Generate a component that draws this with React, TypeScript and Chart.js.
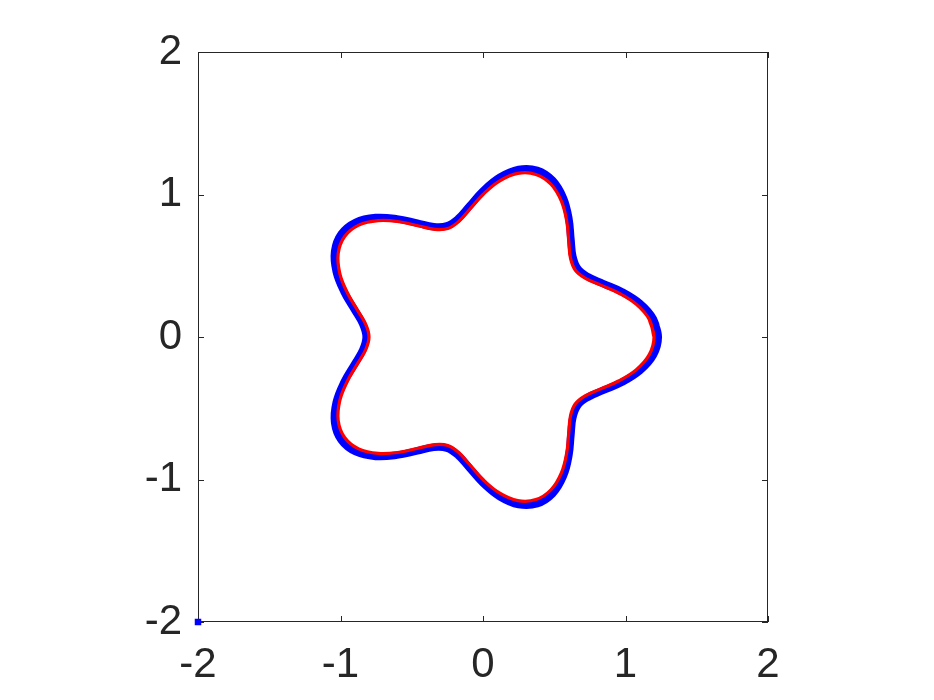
import React, { useEffect, useRef } from "react";
import { Chart, registerables } from "chart.js";

Chart.register(...registerables);

// Red curve (fitted boundary)
const redX = [
  1.200, 1.167, 1.076, 0.951, 0.822, 0.716, 0.647, 0.614, 0.602, 0.588, 0.550, 0.477, 0.371, 0.244, 0.115, 0.000,
  -0.094, -0.172, -0.247, -0.336, -0.450, -0.588, -0.736, -0.872, -0.971, -1.016, -1.005, -0.951, -0.880, -0.822, -0.800,
  -0.822, -0.880, -0.951, -1.005, -1.016, -0.971, -0.872, -0.736, -0.588, -0.450, -0.336, -0.247, -0.172, -0.094, 0.000,
  0.115, 0.244, 0.371, 0.477, 0.550, 0.588, 0.602, 0.614, 0.647, 0.716, 0.822, 0.951, 1.076, 1.167, 1.200, 1.167,
];
const redY = [
  0.000, 0.123, 0.229, 0.309, 0.366, 0.413, 0.470, 0.553, 0.669, 0.809, 0.953, 1.072, 1.141, 1.148, 1.094, 1.000,
  0.895, 0.809, 0.761, 0.755, 0.779, 0.809, 0.817, 0.785, 0.705, 0.587, 0.447, 0.309, 0.187, 0.086, 0.000,
  -0.086, -0.187, -0.309, -0.447, -0.587, -0.705, -0.785, -0.817, -0.809, -0.779, -0.755, -0.761, -0.809, -0.895, -1.000,
  -1.094, -1.148, -1.141, -1.072, -0.953, -0.809, -0.669, -0.553, -0.470, -0.413, -0.366, -0.309, -0.229, -0.123, 0.000, 0.123,
];

// Blue band (sample points)
const blueX = [
  1.230, 1.196, 1.103, 0.975, 0.843, 0.734, 0.663, 0.630, 0.617, 0.603, 0.564, 0.489, 0.380, 0.250, 0.118, 0.000,
  -0.096, -0.176, -0.253, -0.345, -0.461, -0.603, -0.754, -0.894, -0.995, -1.041, -1.030, -0.975, -0.902, -0.843, -0.820,
  -0.843, -0.902, -0.975, -1.030, -1.041, -0.995, -0.894, -0.754, -0.603, -0.461, -0.345, -0.253, -0.176, -0.096, 0.000,
  0.118, 0.250, 0.380, 0.489, 0.564, 0.603, 0.617, 0.630, 0.663, 0.734, 0.843, 0.975, 1.103, 1.196, 1.230, 1.196,
];
const blueY = [
  0.000, 0.126, 0.234, 0.317, 0.375, 0.424, 0.482, 0.567, 0.686, 0.829, 0.976, 1.099, 1.170, 1.176, 1.121, 1.025,
  0.917, 0.829, 0.780, 0.774, 0.799, 0.829, 0.838, 0.805, 0.723, 0.601, 0.459, 0.317, 0.192, 0.089, 0.000,
  -0.089, -0.192, -0.317, -0.459, -0.601, -0.723, -0.805, -0.838, -0.829, -0.799, -0.774, -0.780, -0.829, -0.917, -1.025,
  -1.121, -1.176, -1.170, -1.099, -0.976, -0.829, -0.686, -0.567, -0.482, -0.424, -0.375, -0.317, -0.234, -0.126, 0.000, 0.126,
];

// Single blue marker in the corner
const cornerX = [-2];
const cornerY = [-2];

const tickValues = [-2, -1, 0, 1, 2];
const tickLabels = ["-2", "-1", "0", "1", "2"];

const AXIS_COLOR = "#262626";

const boxPlugin = {
  id: "matlabBox",
  beforeDatasetsDraw(chart: any) {
    const { ctx, chartArea, scales } = chart;
    const { left, right, top, bottom } = chartArea;
    ctx.save();
    ctx.strokeStyle = AXIS_COLOR;
    ctx.lineWidth = 1;
    ctx.strokeRect(left + 0.5, top + 0.5, right - left - 1, bottom - top - 1);
    const tl = 6;
    ctx.beginPath();
    for (const v of tickValues) {
      const px = Math.round(scales.x.getPixelForValue(v)) + 0.5;
      ctx.moveTo(px, bottom);
      ctx.lineTo(px, bottom - tl);
      ctx.moveTo(px, top);
      ctx.lineTo(px, top + tl);
      const py = Math.round(scales.y.getPixelForValue(v)) + 0.5;
      ctx.moveTo(left, py);
      ctx.lineTo(left + tl, py);
      ctx.moveTo(right, py);
      ctx.lineTo(right - tl, py);
    }
    ctx.stroke();
    ctx.restore();
  },
};

export default function App() {
  const ref = useRef<HTMLCanvasElement | null>(null);

  useEffect(() => {
    if (!ref.current) return;
    const toPts = (xs: number[], ys: number[]) => xs.map((x, i) => ({ x, y: ys[i] }));
    const font = { family: "'Liberation Sans', Arial, Helvetica, sans-serif", size: 42 };
    const chart = new Chart(ref.current, {
      type: "scatter",
      data: {
        datasets: [
          {
            label: "corner",
            data: toPts(cornerX, cornerY),
            showLine: false,
            pointStyle: "rect",
            pointRadius: 4.6,
            backgroundColor: "#0000ff",
            borderWidth: 0,
            clip: false,
          },
          {
            label: "fit",
            data: toPts(redX, redY),
            showLine: true,
            borderColor: "#ff0000",
            borderWidth: 3.2,
            borderJoinStyle: "round",
            borderCapStyle: "round",
            pointRadius: 0,
            tension: 0.4,
            fill: false,
          },
          {
            label: "band",
            data: toPts(blueX, blueY),
            showLine: true,
            borderColor: "#0000ff",
            borderWidth: 7.5,
            borderJoinStyle: "round",
            borderCapStyle: "round",
            pointRadius: 0,
            tension: 0.4,
            fill: false,
          },
        ],
      } as any,
      options: {
        animation: false,
        responsive: false,
        maintainAspectRatio: false,
        layout: { padding: { left: 0, right: 166, top: 52, bottom: 0 } },
        plugins: { legend: { display: false }, tooltip: { enabled: false } },
        scales: {
          x: {
            type: "linear",
            min: -2,
            max: 2,
            grid: { display: false, drawTicks: false },
            border: { display: false },
            afterBuildTicks: (s: any) => {
              s.ticks = tickValues.map((v) => ({ value: v }));
            },
            afterFit: (s: any) => {
              s.height = 78;
            },
            ticks: {
              color: AXIS_COLOR,
              font,
              padding: 18,
              maxRotation: 0,
              autoSkip: false,
              callback: (v: any) => tickLabels[tickValues.indexOf(Number(v))] ?? "",
            },
          },
          y: {
            type: "linear",
            min: -2,
            max: 2,
            grid: { display: false, drawTicks: false },
            border: { display: false },
            afterBuildTicks: (s: any) => {
              s.ticks = tickValues.map((v) => ({ value: v }));
            },
            afterFit: (s: any) => {
              s.width = 198;
            },
            ticks: {
              color: AXIS_COLOR,
              font,
              padding: 16,
              autoSkip: false,
              callback: (v: any) => tickLabels[tickValues.indexOf(Number(v))] ?? "",
            },
          },
        },
      } as any,
      plugins: [boxPlugin],
    });
    return () => chart.destroy();
  }, []);

  return (
    <div style={{ position: "fixed", left: 0, top: 0, width: 934, height: 700, background: "#fff" }}>
      <canvas ref={ref} width={934} height={700} style={{ width: 934, height: 700 }} />
    </div>
  );
}
